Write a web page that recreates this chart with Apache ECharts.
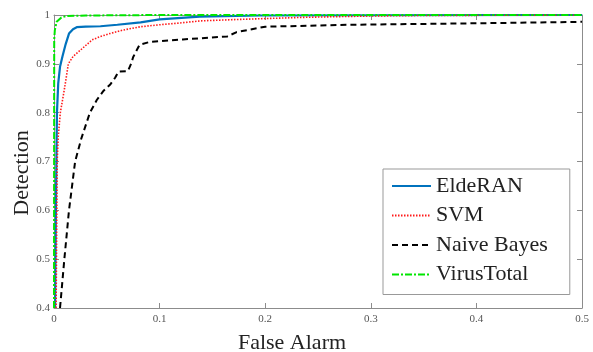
<!DOCTYPE html>
<html>
<head>
<meta charset="utf-8">
<script src="https://cdn.jsdelivr.net/npm/echarts@6/dist/echarts.min.js"></script>
<style>
  html, body { margin: 0; padding: 0; background: #fff; }
  #chart { width: 593px; height: 352px; }
</style>
</head>
<body>
<div id="chart"></div>
<script>
// ROC curves
const seriesNames = ['EldeRAN', 'SVM', 'Naive Bayes', 'VirusTotal'];

const elderanX = [0.001, 0.002, 0.0028, 0.004, 0.0057, 0.008, 0.011, 0.0142, 0.018, 0.0215, 0.03, 0.044, 0.06, 0.082, 0.1, 0.138, 0.195, 0.3, 0.5];
const elderanY = [0.4, 0.65, 0.8, 0.86, 0.894, 0.915, 0.94, 0.962, 0.971, 0.975, 0.976, 0.977, 0.98, 0.985, 0.991, 0.9966, 0.999, 0.9995, 1.0];

const svmX = [0.002, 0.003, 0.004, 0.006, 0.01, 0.0136, 0.018, 0.025, 0.036, 0.044, 0.053, 0.065, 0.082, 0.1, 0.116, 0.139, 0.176, 0.233, 0.3, 0.35, 0.5];
const svmY = [0.4, 0.7, 0.75, 0.8, 0.85, 0.9, 0.915, 0.928, 0.949, 0.956, 0.962, 0.969, 0.976, 0.98, 0.983, 0.988, 0.991, 0.995, 0.998, 0.999, 1.0];

const nbX = [0.0057, 0.0098, 0.0142, 0.02, 0.026, 0.034, 0.0405, 0.047, 0.053, 0.058, 0.061, 0.07, 0.073, 0.075, 0.081, 0.091, 0.122, 0.164, 0.173, 0.2, 0.28, 0.4, 0.5];
const nbY = [0.4, 0.5, 0.6, 0.7, 0.748, 0.8, 0.826, 0.845, 0.857, 0.872, 0.884, 0.885, 0.9, 0.914, 0.939, 0.945, 0.95, 0.956, 0.965, 0.976, 0.98, 0.983, 0.986];

const vtX = [0, 0.0002, 0.0008, 0.0025, 0.007, 0.012, 0.03, 0.1, 0.5];
const vtY = [0.4, 0.95, 0.969, 0.986, 0.995, 0.998, 0.999, 1.0, 1.0];

const xTicks = [0, 0.1, 0.2, 0.3, 0.4, 0.5];
const yTicks = [0.4, 0.5, 0.6, 0.7, 0.8, 0.9, 1];

const zip = (xs, ys) => xs.map((x, i) => [x, ys[i]]);

const serif = '"Liberation Serif", "DejaVu Serif", serif';
const axisGray = '#8c8c8c';

const chart = echarts.init(document.getElementById('chart'));

const baseX = {
  type: 'value',
  min: xTicks[0],
  max: xTicks[xTicks.length - 1],
  interval: 0.1,
  axisLine: { show: true, onZero: false, lineStyle: { color: axisGray, width: 1 } },
  axisTick: { show: true, inside: true, length: 5, lineStyle: { color: axisGray } },
  splitLine: { show: false },
};
const baseY = {
  type: 'value',
  min: yTicks[0],
  max: yTicks[yTicks.length - 1],
  interval: 0.1,
  axisLine: { show: true, onZero: false, lineStyle: { color: axisGray, width: 1 } },
  axisTick: { show: true, inside: true, length: 5, lineStyle: { color: axisGray } },
  splitLine: { show: false },
};

const fmt = (v) => (Math.abs(v - 1) < 1e-9 ? '1' : Math.abs(v) < 1e-9 ? '0' : v.toFixed(1));

const line = (name, data, color, width, type) => ({
  name,
  type: 'line',
  data,
  symbol: 'none',
  smooth: false,
  animation: false,
  lineStyle: { color, width, type },
  itemStyle: { color },
});

chart.setOption({
  backgroundColor: '#fff',
  animation: false,
  grid: { left: 54, right: 11, top: 15, bottom: 44 },
  xAxis: [
    Object.assign({}, baseX, {
      position: 'bottom',
      axisLabel: { show: true, color: '#555', fontFamily: serif, fontSize: 11, margin: 6, formatter: fmt },
    }),
    Object.assign({}, baseX, { position: 'top', axisLabel: { show: false } }),
  ],
  yAxis: [
    Object.assign({}, baseY, {
      position: 'left',
      axisLabel: { show: true, color: '#555', fontFamily: serif, fontSize: 11, margin: 4, formatter: fmt },
    }),
    Object.assign({}, baseY, { position: 'right', axisLabel: { show: false } }),
  ],
  legend: {
    left: 383,
    top: 169,
    orient: 'vertical',
    data: seriesNames,
    itemWidth: 39,
    itemHeight: 14,
    itemGap: 7.5,
    padding: [6, 22, 9, 8],
    borderColor: '#999',
    borderWidth: 1,
    backgroundColor: '#fff',
    // hide the marker dot, keep the styled line
    itemStyle: { opacity: 0 },
    textStyle: { fontFamily: serif, fontSize: 22, color: '#222', lineHeight: 20 },
  },
  graphic: [
    {
      type: 'text', x: 292, y: 343,
      style: { text: 'False Alarm', font: '22px ' + serif, fill: '#222', align: 'center', verticalAlign: 'middle' },
    },
    {
      type: 'text', x: 22, y: 173, rotation: Math.PI / 2,
      style: { text: 'Detection', font: '22px ' + serif, fill: '#222', align: 'center', verticalAlign: 'middle' },
    },
  ],
  series: [
    line(seriesNames[0], zip(elderanX, elderanY), '#0072BD', 2.2, 'solid'),
    line(seriesNames[1], zip(svmX, svmY), '#ff1a1a', 1.6, [1.5, 1.5]),
    line(seriesNames[2], zip(nbX, nbY), '#000000', 2, [6, 4]),
    line(seriesNames[3], zip(vtX, vtY), '#00e600', 2, [7, 2, 2, 2]),
  ],
});
</script>
</body>
</html>
